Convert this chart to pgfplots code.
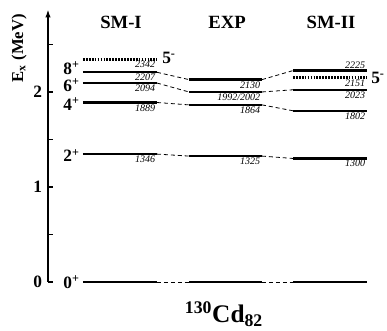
\documentclass[border=0pt]{standalone}
\usepackage{fontspec}
\setmainfont{Liberation Serif}
\usepackage{pgfplots}
\pgfplotsset{compat=1.18}
\usetikzlibrary{arrows.meta}
\newcommand\lev[4]{\addplot[#1] coordinates {(#2,#4) (#3,#4)};}
\begin{document}
\begin{tikzpicture}
\begin{axis}[
  x=0.75pt, y=71.25pt,
  xmin=48, xmax=387, ymin=0, ymax=2.87,
  axis y line=left, axis x line=none,
  y axis line style={line width=1.2pt,-{Latex[length=6pt,width=4pt]}},
  ytick={0,1,2}, minor ytick={0.5,1.5,2.5},
  tick align=inside,
  major tick length=4pt, minor tick length=4pt,
  every tick/.style={black,line width=1.1pt},
  /pgf/number format/assume math mode=true,
  yticklabel style={font=\bfseries\fontsize{13}{14}\selectfont,xshift=-1pt},
  clip=false,
]
\path (axis cs:0,-0.484) rectangle (axis cs:387,2.968);
\pgfplotsset{lv/.style={black,line width=1.7pt},dt/.style={black,line width=1.7pt,dash pattern=on 1.3pt off 0.9pt},cn/.style={black,line width=0.6pt,dash pattern=on 3pt off 2.2pt}}
% SM-I
\lev{lv}{83}{157}{0}
\lev{lv}{83}{157}{1.346}
\lev{lv}{83}{157}{1.889}
\lev{lv}{83}{157}{2.094}
\lev{lv}{83}{157}{2.207}
\lev{dt}{83}{157}{2.342}
% EXP
\lev{lv}{189}{262}{0}
\lev{lv}{189}{262}{1.325}
\lev{lv}{189}{262}{1.864}
\lev{lv}{189}{262}{2.000}
\lev{lv}{189}{262}{2.130}
% SM-II
\lev{lv}{293}{367}{0}
\lev{lv}{293}{367}{1.300}
\lev{lv}{293}{367}{1.802}
\lev{lv}{293}{367}{2.023}
\lev{dt}{293}{367}{2.151}
\lev{lv}{293}{367}{2.225}
% connectors
\addplot[cn] coordinates {(157,0) (189,0)};
\addplot[cn] coordinates {(157,1.346) (189,1.325)};
\addplot[cn] coordinates {(157,1.889) (189,1.864)};
\addplot[cn] coordinates {(157,2.094) (189,2.000)};
\addplot[cn] coordinates {(157,2.207) (189,2.130)};
\addplot[cn] coordinates {(262,0) (293,0)};
\addplot[cn] coordinates {(262,1.325) (293,1.300)};
\addplot[cn] coordinates {(262,1.864) (293,1.802)};
\addplot[cn] coordinates {(262,2.000) (293,2.023)};
\addplot[cn] coordinates {(262,2.130) (293,2.225)};
% value labels
\tikzset{val/.style={font=\itshape\fontsize{7.5}{8}\selectfont,inner sep=0.5pt}}
\node[val,anchor=north east] at (axis cs:156,2.332) {2342};
\node[val,anchor=north east] at (axis cs:156,2.197) {2207};
\node[val,anchor=north east] at (axis cs:156,2.084) {2094};
\node[val,anchor=north east] at (axis cs:156,1.879) {1889};
\node[val,anchor=north east] at (axis cs:156,1.336) {1346};
\node[val,anchor=north east] at (axis cs:261,2.120) {2130};
\node[val,anchor=north east] at (axis cs:261,1.990) {1992/2002};
\node[val,anchor=north east] at (axis cs:261,1.854) {1864};
\node[val,anchor=north east] at (axis cs:261,1.315) {1325};
\node[val,anchor=south east] at (axis cs:366,2.240) {2225};
\node[val,anchor=north east] at (axis cs:366,2.141) {2151};
\node[val,anchor=north east] at (axis cs:366,2.013) {2023};
\node[val,anchor=north east] at (axis cs:366,1.792) {1802};
\node[val,anchor=north east] at (axis cs:366,1.290) {1300};
% spin labels
\tikzset{sp/.style={font=\bfseries\fontsize{13}{14}\selectfont,inner sep=0pt}}
\node[sp,anchor=east] at (axis cs:80,2.25) {8\textsuperscript{+}};
\node[sp,anchor=east] at (axis cs:80,2.07) {6\textsuperscript{+}};
\node[sp,anchor=east] at (axis cs:80,1.87) {4\textsuperscript{+}};
\node[sp,anchor=east] at (axis cs:80,1.33) {2\textsuperscript{+}};
\node[sp,anchor=east] at (axis cs:80,0) {0\textsuperscript{+}};
\node[sp,anchor=west] at (axis cs:162,2.36) {5\textsuperscript{-}};
\node[sp,anchor=west] at (axis cs:371,2.151) {5\textsuperscript{-}};
% titles
\tikzset{tt/.style={font=\bfseries\fontsize{14}{15}\selectfont}}
\node[tt] at (axis cs:121,2.73) {SM-I};
\node[tt] at (axis cs:227,2.73) {EXP};
\node[tt] at (axis cs:331,2.73) {SM-II};
\node[font=\bfseries\fontsize{19}{20}\selectfont] at (axis cs:224,-0.34) {\textsuperscript{130}Cd\textsubscript{82}};
\node[font=\bfseries\fontsize{12.5}{13}\selectfont,rotate=90] at (axis cs:19,2.46) {E\textsubscript{x} (MeV)};
\end{axis}
\end{tikzpicture}
\end{document}
